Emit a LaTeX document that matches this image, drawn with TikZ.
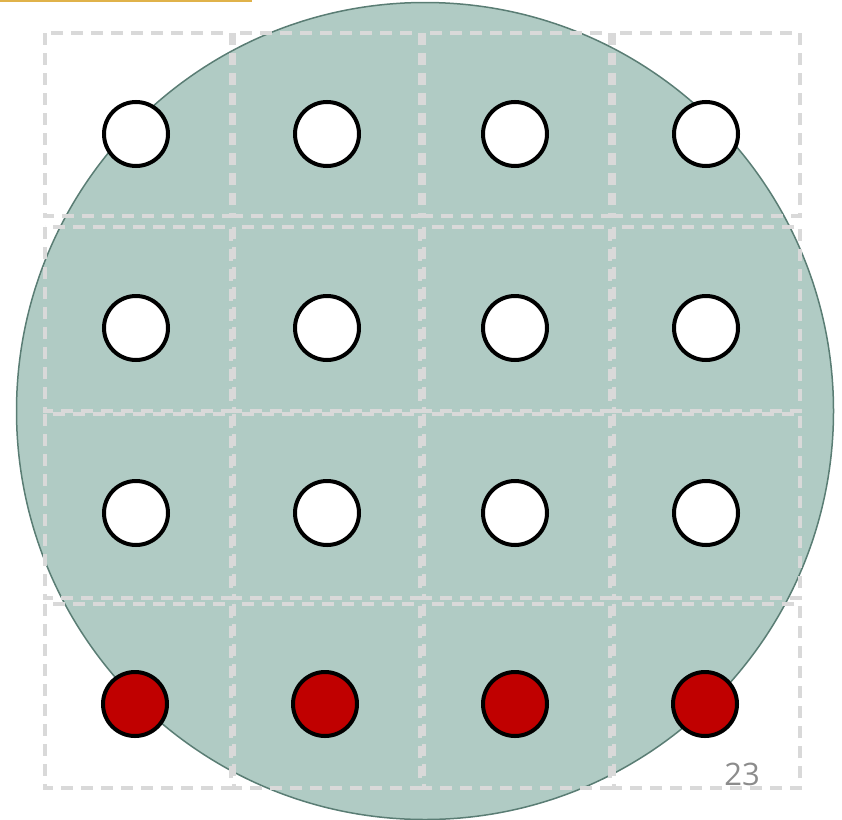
\documentclass[tikz,border=0pt]{standalone}
\usepackage{fontspec}
\setsansfont{Open Sans}
\usepackage{xcolor}
\usepackage{tikz}
\definecolor{waferfill}{HTML}{B0CBC4}
\definecolor{waferline}{HTML}{5A7D74}
\definecolor{celldash}{HTML}{D9D9D9}
\definecolor{diered}{HTML}{C00000}
\definecolor{topgold}{HTML}{E0B24A}
\definecolor{pagegray}{HTML}{8C8C8C}

\begin{document}
\begin{tikzpicture}[
        x=1pt, y=-1pt,
        wafer/.style = {draw=waferline, fill=waferfill, line width=1.5pt},
        cell/.style = {draw=celldash, line width=3.5pt, dash pattern=on 12pt off 8pt},
        die/.style = {draw=black, circle, fill=white, minimum size=64pt, inner sep=0pt, line width=4pt},
        baddie/.style = {die, fill=diered}
    ]
        \useasboundingbox (0,0) rectangle (842,819);

        % Top rule
        \draw [topgold, line width=2pt] (0,0.5) -- (252,0.5);

        % Wafer
        \node (wafer) [wafer, circle, minimum size=817pt, inner sep=0pt] at (425,411) {};

        % Cells
        \foreach \row/\ya/\yb in {1/33/216, 2/227/411, 3/414/598, 4/604/788} {
            \foreach \col/\xa/\xb in {1/45/231, 2/234/420, 3/424/610, 4/614/800} {
                \draw [cell] (\xa,\ya) rectangle (\xb,\yb);
            }
        }

        % Dies
        \foreach \row/\y in {1/134, 2/328, 3/513} {
            \foreach \col/\x in {1/136, 2/327, 3/515, 4/706} {
                \node (die\row\col) [die] at (\x,\y) {};
            }
        }
        \foreach \col/\x in {1/135, 2/325, 3/515, 4/705} {
            \node (die4\col) [baddie] at (\x,704) {};
        }

        % Page number
        \node (pagenum) [font=\sffamily\fontsize{31}{34}\selectfont, text=pagegray, anchor=base] at (742,785) {23};

    \end{tikzpicture}
\end{document}
